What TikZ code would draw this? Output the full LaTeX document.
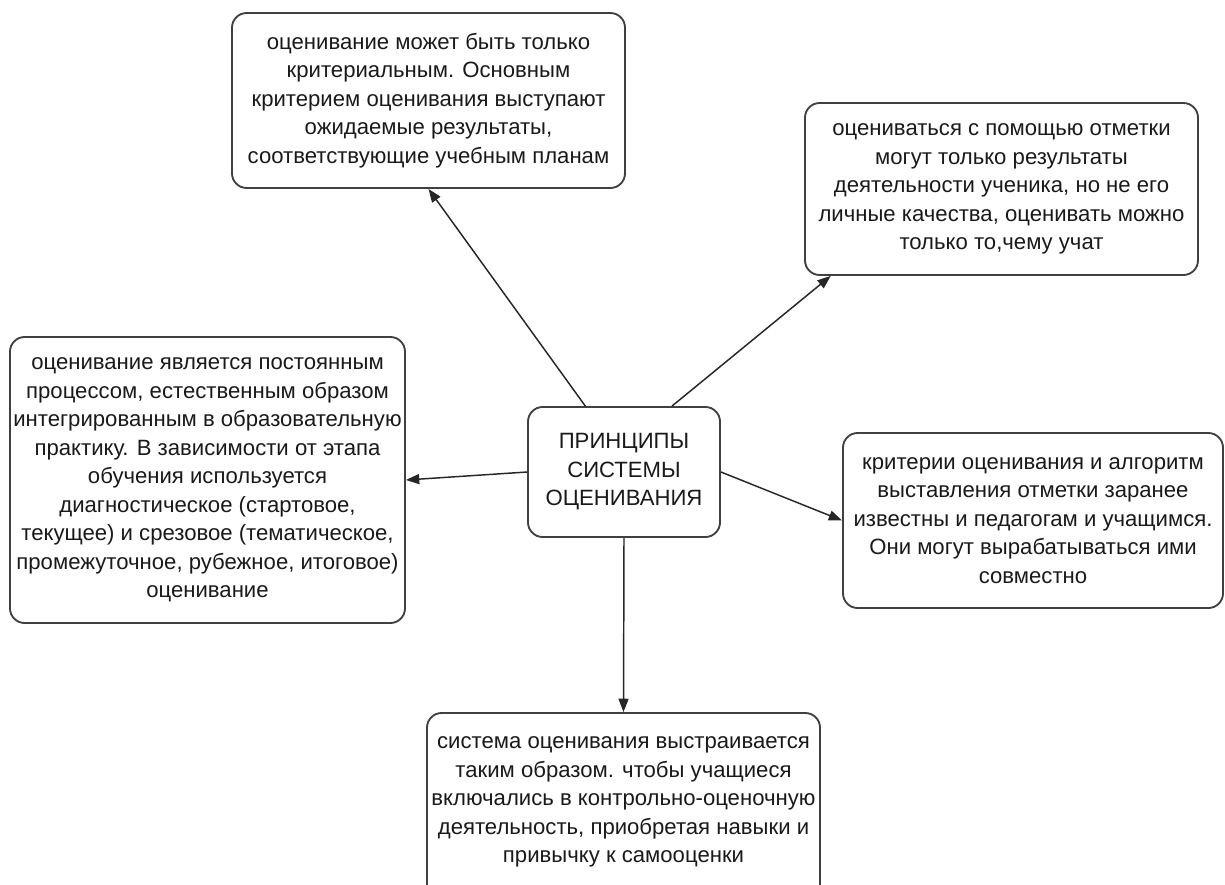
\documentclass[tikz,border=0pt]{standalone}
\usepackage{fontspec}
\setmainfont{Liberation Sans}
\usetikzlibrary{arrows.meta}
\begin{document}
\begin{tikzpicture}[x=0.75pt,y=-0.75pt,
  box/.style={draw=black!75, line width=1.4pt, rounded corners=11pt, align=center,
    inner sep=0pt, font=\fontsize{16.6}{21.4}\selectfont, text=black!90},
  link/.style={draw=black!85, line width=1.1pt, -{Triangle[length=10pt,width=7.5pt]}}]
\useasboundingbox (0,0) rectangle (1225,885);
\node[box, minimum width=294.75pt, minimum height=131.25pt] (A) at (428.5,100.5)
  {оценивание может быть только\\критериальным. Основным\\критерием оценивания выступают\\ожидаемые результаты,\\соответствующие учебным планам};
\node[box, minimum width=294.75pt, minimum height=129pt] (B) at (1001.5,189)
  {оцениваться с помощью отметки\\могут только результаты\\деятельности ученика, но не его\\личные качества, оценивать можно\\только то,чему учат};
\node[box, minimum width=296.25pt, minimum height=214.5pt] (C) at (207.5,480)
  {оценивание является постоянным\\процессом, естественным образом\\интегрированным в образовательную\\практику. В зависимости от этапа\\обучения используется\\диагностическое (стартовое,\\текущее) и срезовое (тематическое,\\промежуточное, рубежное, итоговое)\\оценивание};
\node[box, minimum width=144pt, minimum height=97.5pt] (D) at (624,472)
  {ПРИНЦИПЫ\\СИСТЕМЫ\\ОЦЕНИВАНИЯ};
\node[box, minimum width=285pt, minimum height=131.25pt] (E) at (1033,520.5)
  {критерии оценивания и алгоритм\\выставления отметки заранее\\известны и педагогам и учащимся.\\Они могут вырабатываться ими\\совместно};
\node[box, minimum width=294.75pt, minimum height=151.5pt] (F) at (623.5,814)
  {система оценивания выстраивается\\таким образом. чтобы учащиеся\\включались в контрольно-оценочную\\деятельность, приобретая навыки и\\привычку к самооценки\\\mbox{}};
\draw[link] ([xshift=-29pt]D.north) -- (A.south);
\draw[link] ([xshift=36pt]D.north) -- ([xshift=20pt]B.south west);
\draw[link] (D.west) -- (C.east);
\draw[link] (D.east) -- (E.west);
\draw[link] (D.south) -- (F.north);
\end{tikzpicture}
\end{document}
